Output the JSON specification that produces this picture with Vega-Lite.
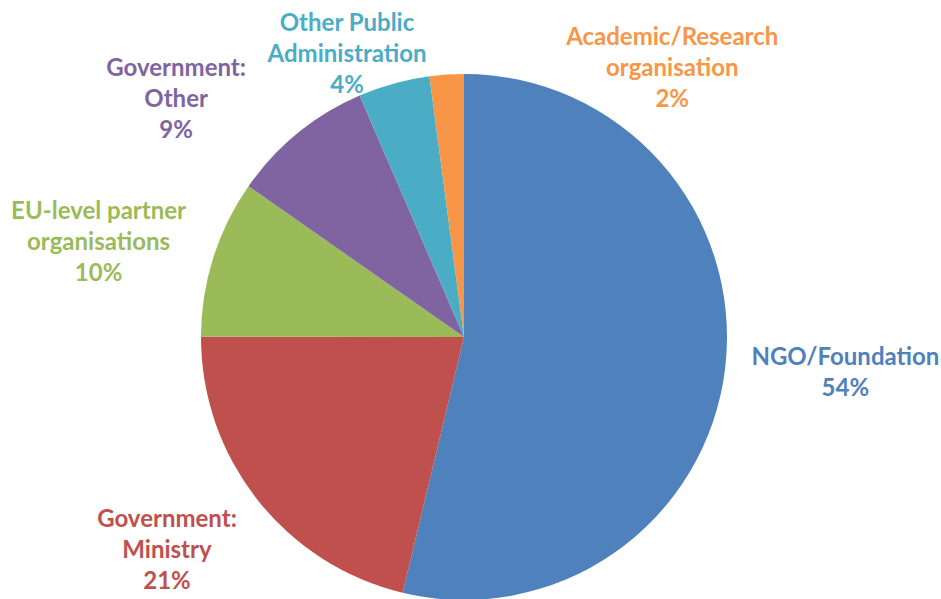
{
  "$schema": "https://vega.github.io/schema/vega-lite/v6.json",
  "width": 928,
  "height": 524,
  "autosize": {"type": "none"},
  "padding": {"top": 75, "left": 0, "right": 13, "bottom": 0},
  "background": "white",
  "view": {"stroke": null},
  "data": {
    "values": [
      {"category": "NGO/Foundation", "share": 53.8, "order": 1, "label": "NGO/Foundation\n54%"},
      {"category": "Government: Ministry", "share": 21.3, "order": 2, "label": "Government:\nMinistry\n21%"},
      {"category": "EU-level partner organisations", "share": 9.7, "order": 3, "label": "EU-level partner\norganisations\n10%"},
      {"category": "Government: Other", "share": 8.8, "order": 4, "label": "Government:\nOther\n9%"},
      {"category": "Other Public Administration", "share": 4.4, "order": 5, "label": "Other Public\nAdministration\n4%"},
      {"category": "Academic/Research organisation", "share": 2.1, "order": 6, "label": "Academic/Research\norganisation\n2%"}
    ]
  },
  "encoding": {
    "theta": {"field": "share", "type": "quantitative", "stack": true},
    "order": {"field": "order", "type": "quantitative"},
    "color": {
      "field": "category",
      "type": "nominal",
      "legend": null,
      "scale": {
        "domain": ["NGO/Foundation", "Government: Ministry", "EU-level partner organisations", "Government: Other", "Other Public Administration", "Academic/Research organisation"],
        "range": ["#4F81BD", "#C0504D", "#9BBB59", "#8064A2", "#4BACC6", "#F79646"]
      }
    }
  },
  "layer": [
    {"mark": {"type": "arc", "outerRadius": 263}},
    {
      "mark": {"type": "text", "radius": 380, "dx": 4, "dy": -24, "font": "Lato", "fontSize": 24, "fontWeight": "bold", "lineBreak": "\n", "lineHeight": 31, "align": "center", "baseline": "middle"},
      "encoding": {"text": {"condition": {"test": "datum.order === 1", "field": "label"}, "value": ""}}
    },
    {
      "mark": {"type": "text", "radius": 378, "dx": 0, "dy": -51, "font": "Lato", "fontSize": 24, "fontWeight": "bold", "lineBreak": "\n", "lineHeight": 31, "align": "center", "baseline": "middle"},
      "encoding": {"text": {"condition": {"test": "datum.order === 2", "field": "label"}, "value": ""}}
    },
    {
      "mark": {"type": "text", "radius": 378, "dx": -5, "dy": -11, "font": "Lato", "fontSize": 24, "fontWeight": "bold", "lineBreak": "\n", "lineHeight": 31, "align": "center", "baseline": "middle"},
      "encoding": {"text": {"condition": {"test": "datum.order === 3", "field": "label"}, "value": ""}}
    },
    {
      "mark": {"type": "text", "radius": 340, "dx": -73, "dy": -5, "font": "Lato", "fontSize": 24, "fontWeight": "bold", "lineBreak": "\n", "lineHeight": 31, "align": "center", "baseline": "middle"},
      "encoding": {"text": {"condition": {"test": "datum.order === 4", "field": "label"}, "value": ""}}
    },
    {
      "mark": {"type": "text", "radius": 300, "dx": -37, "dy": -24, "font": "Lato", "fontSize": 24, "fontWeight": "bold", "lineBreak": "\n", "lineHeight": 31, "align": "center", "baseline": "middle"},
      "encoding": {"text": {"condition": {"test": "datum.order === 5", "field": "label"}, "value": ""}}
    },
    {
      "mark": {"type": "text", "radius": 300, "dx": 228, "dy": 0, "font": "Lato", "fontSize": 24, "fontWeight": "bold", "lineBreak": "\n", "lineHeight": 31, "align": "center", "baseline": "middle"},
      "encoding": {"text": {"condition": {"test": "datum.order === 6", "field": "label"}, "value": ""}}
    }
  ]
}
